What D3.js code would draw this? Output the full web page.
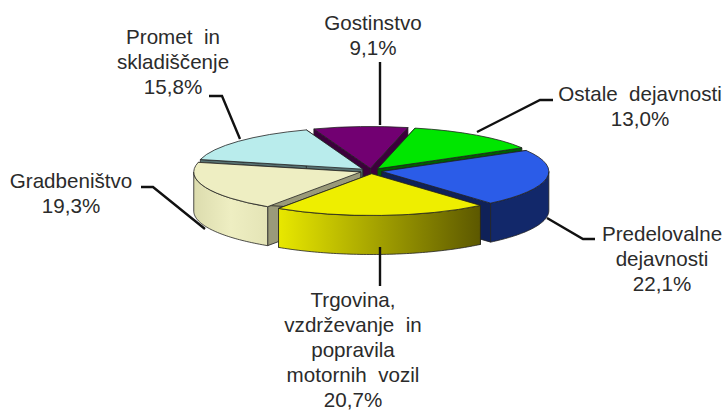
<!DOCTYPE html>
<html>
<head>
<meta charset="utf-8">
<script src="https://d3js.org/d3.v7.min.js"></script>
<style>
html, body { margin: 0; padding: 0; background: #fff; }
text { font-family: "Liberation Sans", Arial, sans-serif; font-size: 20.6px; fill: #2b2b2b; }
</style>
</head>
<body>
<div id="chart-area"></div>
<script>
// data, clockwise from the first slice
const categories = ["Ostale dejavnosti", "Predelovalne dejavnosti", "Trgovina, vzdrževanje in popravila motornih vozil", "Gradbeništvo", "Promet in skladiščenje", "Gostinstvo"];
const values = [13.0, 22.1, 20.7, 19.3, 15.8, 9.1];
const valueLabels = ["13,0%", "22,1%", "20,7%", "19,3%", "15,8%", "9,1%"];

// how the labels wrap, same order as categories
const labelLines = [
    ["Ostale\u00a0 dejavnosti"],
    ["Predelovalne", "dejavnosti"],
    ["Trgovina,", "vzdrževanje\u00a0 in", "popravila", "motornih\u00a0 vozil"],
    ["Gradbeništvo"],
    ["Promet\u00a0 in", "skladiščenje"],
    ["Gostinstvo"]
];
const labelPos = [
    {x: 640, y: 101}, {x: 662, y: 241}, {x: 353, y: 307},
    {x: 71, y: 188}, {x: 173, y: 44}, {x: 373, y: 30}
];
const leaders = [
    [[553, 100], [540, 100], [477, 132]],
    [[595, 239], [583, 239], [547, 218]],
    [[380, 286], [380, 247]],
    [[141, 187], [153, 187], [205, 229]],
    [[209, 96], [222, 96], [240, 139]],
    [[380, 62], [380, 125]]
];

// slice colours: top, wall gradient stops, cut face
const topColors = ["#00e600", "#2b5ce8", "#eeee00", "#eeeec2", "#b9ecec", "#720072"];
const wallColors = [
    ["#007000", "#007000"],
    ["#12286a", "#12286a"],
    ["#e8e800", "#5c5800"],
    ["#dcdcae", "#eeeec2", "#e4e4b6"],
    ["#5f8080", "#5f8080"],
    ["#3c003c", "#3c003c"]
];
const cutColors = ["#006000", "#0f2158", "#6c6a00", "#9a9a7a", "#567070", "#3c003c"];

const width = 723, height = 410;
const cx = 371, cy = 171;
const radius = 167, tilt = 0.25, depth = 39, explode = 11;

const svg = d3.select("#chart-area")
    .append("svg")
    .attr("width", width)
    .attr("height", height)
    .style("display", "block");

const pie = d3.pie().sort(null)
    .startAngle(13 * Math.PI / 180)
    .endAngle((13 + 360) * Math.PI / 180);

const arcs = pie(values);
arcs.forEach(function(d, i){
    d.index = i;
    d.mid = (d.startAngle + d.endAngle) / 2;
    d.ox = cx + explode * Math.sin(d.mid);
    d.oy = cy - explode * tilt * Math.cos(d.mid);
});

const arc = d3.arc().innerRadius(0).outerRadius(radius);
const line = d3.line();

// point on the rim of a slice, relative to its apex
function rim(a){
    return [radius * Math.sin(a), -radius * tilt * Math.cos(a)];
}

// wall gradients
const defs = svg.append("defs");
arcs.forEach(function(d, i){
    const g = defs.append("linearGradient").attr("id", "wall" + i);
    wallColors[i].forEach(function(c, j){
        g.append("stop")
            .attr("offset", j / (wallColors[i].length - 1))
            .attr("stop-color", c);
    });
});

// back to front so each slice covers the one behind it
const drawOrder = [5, 4, 0, 3, 1, 2];

drawOrder.forEach(function(i){
    const d = arcs[i];
    const g = svg.append("g").attr("transform", "translate(" + d.ox + "," + d.oy + ")");

    // the two cut faces
    [d.startAngle, d.endAngle].forEach(function(a){
        const p = rim(a);
        g.append("path")
            .attr("d", line([[0, 0], p, [p[0], p[1] + depth], [0, depth]]) + "Z")
            .attr("fill", cutColors[i])
            .attr("stroke", "#222")
            .attr("stroke-width", 0.8);
    });

    // outer wall, only the part that faces the viewer
    const from = Math.max(d.startAngle, Math.PI / 2);
    const to = Math.min(d.endAngle, Math.PI * 1.5);
    if(to > from){
        const steps = d3.range(from, to, 0.02).concat([to]);
        const upper = steps.map(rim);
        const lower = steps.slice().reverse().map(function(a){
            const p = rim(a);
            return [p[0], p[1] + depth];
        });
        g.append("path")
            .attr("d", line(upper.concat(lower)) + "Z")
            .attr("fill", "url(#wall" + i + ")")
            .attr("stroke", "#222")
            .attr("stroke-width", 0.8);
    }

    // top face, a flat arc squashed by the tilt
    g.append("path")
        .attr("transform", "scale(1," + tilt + ")")
        .attr("d", arc(d))
        .attr("fill", topColors[i])
        .attr("stroke", "#222")
        .attr("stroke-width", 0.8)
        .attr("vector-effect", "non-scaling-stroke");
});

// leader lines
svg.selectAll("path.leader")
    .data(leaders)
    .enter()
    .append("path")
    .attr("class", "leader")
    .attr("d", function(d){ return line(d); })
    .attr("fill", "none")
    .attr("stroke", "#111")
    .attr("stroke-width", 2.4);

// labels
categories.forEach(function(name, i){
    const t = svg.append("text")
        .attr("text-anchor", "middle")
        .attr("data-category", name);
    labelLines[i].concat([valueLabels[i]]).forEach(function(s, j){
        t.append("tspan")
            .attr("x", labelPos[i].x)
            .attr("y", labelPos[i].y + j * 25)
            .text(s);
    });
});
</script>
</body>
</html>
